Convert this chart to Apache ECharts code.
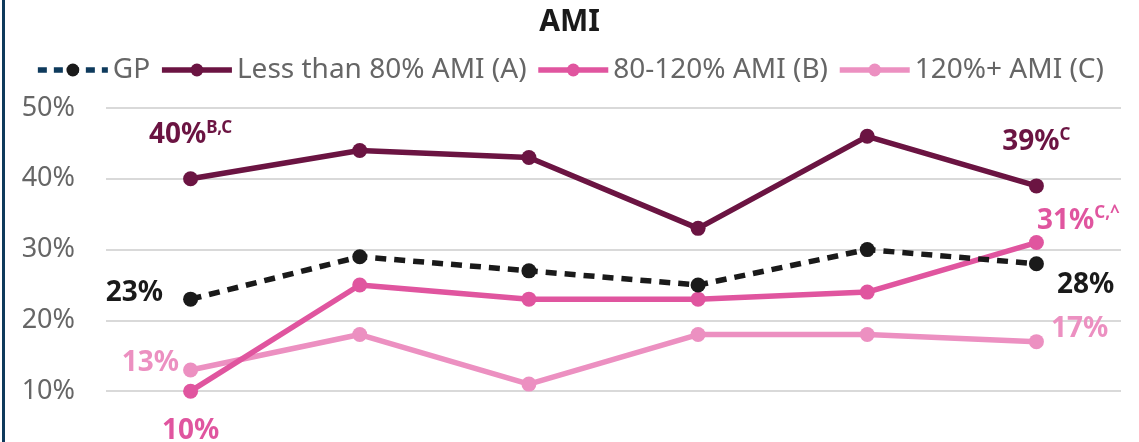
<!DOCTYPE html>
<html>
<head>
<meta charset="utf-8">
<style>
  html, body { margin: 0; padding: 0; background: #ffffff; }
  #chart { width: 1139px; height: 442px; }
</style>
<script src="https://cdn.jsdelivr.net/npm/echarts@6/dist/echarts.min.js"></script>
</head>
<body>
<div id="chart"></div>
<script>
// Survey periods (axis labels are not shown on this panel)
const periods = ['P1', 'P2', 'P3', 'P4', 'P5', 'P6'];

// Percent of respondents by income group
const gp      = [23, 29, 27, 25, 30, 28];
const amiA    = [40, 44, 43, 33, 46, 39];   // Less than 80% AMI (A)
const amiB    = [10, 25, 23, 23, 24, 31];   // 80-120% AMI (B)
const amiC    = [13, 18, 11, 18, 18, 17];   // 120%+ AMI (C)

// Significance markers attached to end-point labels
const supA = ['B,C', 'C'];
const supB = ['', 'C,^'];

const yTicks = [0, 10, 20, 30, 40, 50];

const FONT = '"Noto Sans", "Open Sans", sans-serif';
const COL = {
  gp: '#1a1a1a', gpLegend: '#0e3a5c',
  a: '#6b1442', b: '#e0559f', c: '#ec90c1'
};
const LINE_W = 5.5;

function richFor(color) {
  return {
    v: { fontSize: 28, fontWeight: 'bold', color: color, lineHeight: 32, fontFamily: FONT },
    s: { fontSize: 17, fontWeight: 'bold', color: color, lineHeight: 18, verticalAlign: 'top', fontFamily: FONT }
  };
}

// Builds series data, labelling only the first and last points
function withEndLabels(values, color, firstLabel, lastLabel) {
  const last = values.length - 1;
  return values.map((v, i) => {
    if (i === 0 && firstLabel) return { value: v, label: Object.assign({ show: true, rich: richFor(color) }, firstLabel(v)) };
    if (i === last && lastLabel) return { value: v, label: Object.assign({ show: true, rich: richFor(color) }, lastLabel(v)) };
    return v;
  });
}

const fmt = (v, sup) => '{v|' + v + '%}' + (sup ? '{s|' + sup + '}' : '');

const chart = echarts.init(document.getElementById('chart'), null, { renderer: 'canvas' });

chart.setOption({
  animation: false,
  backgroundColor: '#ffffff',
  title: {
    text: 'AMI',
    left: 'center',
    top: 2,
    textStyle: { fontFamily: FONT, fontSize: 30, fontWeight: 'bold', color: '#1a1a1a' }
  },
  legend: {
    top: 51,
    left: 'center',
    itemWidth: 70,
    itemHeight: 16,
    itemGap: 9,
    textStyle: { fontFamily: FONT, fontSize: 28, color: '#666666' },
    data: [
      { name: 'GP', lineStyle: { color: COL.gpLegend, type: [9, 7], width: LINE_W }, itemStyle: { color: COL.gp } },
      { name: 'Less than 80% AMI (A)', lineStyle: { width: LINE_W } },
      { name: '80-120% AMI (B)', lineStyle: { width: LINE_W } },
      { name: '120%+ AMI (C)', lineStyle: { width: LINE_W } }
    ]
  },
  graphic: [{
    type: 'rect',
    shape: { x: 2, y: 0, width: 3, height: 442 },
    style: { fill: '#0e3a5c' },
    silent: true
  }],
  // The plot runs past the bottom edge, so the 0% line sits off-canvas
  grid: { left: 106, right: 18, top: 108, height: 354, outerBoundsMode: 'none', containLabel: false },
  xAxis: {
    type: 'category',
    data: periods,
    boundaryGap: true,
    axisLine: { show: false },
    axisTick: { show: false },
    axisLabel: { show: false }
  },
  yAxis: {
    type: 'value',
    min: yTicks[0],
    max: yTicks[yTicks.length - 1],
    interval: 10,
    axisLine: { show: false },
    axisTick: { show: false },
    axisLabel: {
      margin: 31,
      fontFamily: FONT, fontSize: 27, color: '#666666',
      formatter: v => v + '%'
    },
    splitLine: { lineStyle: { color: '#d9d9d9', width: 2 } }
  },
  series: [
    {
      name: 'Less than 80% AMI (A)',
      type: 'line',
      z: 3,
      symbol: 'circle', symbolSize: 15,
      lineStyle: { color: COL.a, width: LINE_W },
      itemStyle: { color: COL.a },
      data: withEndLabels(amiA, COL.a,
        v => ({ position: 'top', distance: 20, formatter: fmt(v, supA[0]) }),
        v => ({ position: 'top', distance: 20, formatter: fmt(v, supA[1]) }))
    },
    {
      name: 'GP',
      type: 'line',
      z: 4,
      symbol: 'circle', symbolSize: 15,
      lineStyle: { color: COL.gp, width: LINE_W, type: [11, 8] },
      itemStyle: { color: COL.gp },
      data: withEndLabels(gp, COL.gp,
        v => ({ position: 'left', distance: 20, offset: [0, -6], formatter: fmt(v) }),
        v => ({ position: 'right', distance: 13, offset: [0, 21], formatter: fmt(v) }))
    },
    {
      name: '80-120% AMI (B)',
      type: 'line',
      z: 3,
      symbol: 'circle', symbolSize: 15,
      lineStyle: { color: COL.b, width: LINE_W },
      itemStyle: { color: COL.b },
      data: withEndLabels(amiB, COL.b,
        v => ({ position: 'bottom', distance: 16, formatter: fmt(v, supB[0]) }),
        v => ({ position: 'top', distance: -2, offset: [42, 0], formatter: fmt(v, supB[1]) }))
    },
    {
      name: '120%+ AMI (C)',
      type: 'line',
      z: 2,
      symbol: 'circle', symbolSize: 15,
      lineStyle: { color: COL.c, width: LINE_W },
      itemStyle: { color: COL.c },
      data: withEndLabels(amiC, COL.c,
        v => ({ position: 'left', distance: 4, offset: [0, -7], formatter: fmt(v) }),
        v => ({ position: 'right', distance: 7, offset: [0, -13], formatter: fmt(v) }))
    }
  ]
});
</script>
</body>
</html>
